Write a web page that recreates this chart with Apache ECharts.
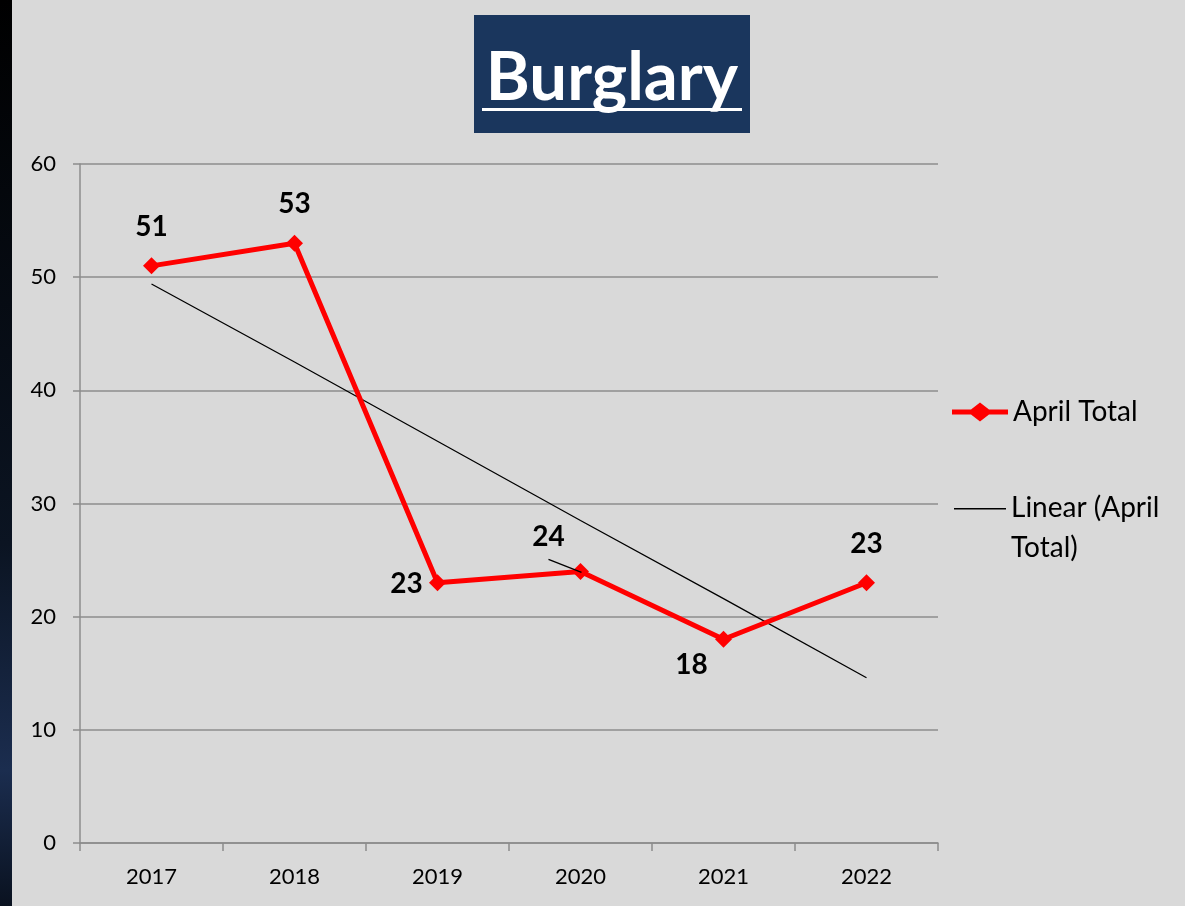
<!DOCTYPE html>
<html>
<head>
<meta charset="utf-8">
<script src="https://cdn.jsdelivr.net/npm/echarts@6/dist/echarts.min.js"></script>
<style>
html,body{margin:0;padding:0;background:#d9d9d9;}
#chart{width:1185px;height:906px;}
</style>
</head>
<body>
<div id="chart"></div>
<script>
// ---- data ----
const categories = ['2017', '2018', '2019', '2020', '2021', '2022'];
const aprilTotal = [51, 53, 23, 24, 18, 23];
// linear trendline values
const trendValues = [49.4, 42.5, 35.5, 28.5, 21.6, 14.6];
const yTicks = [0, 10, 20, 30, 40, 50, 60];
const titleText = 'Burglary';
const seriesName = 'April Total';
const trendName = 'Linear (April Total)';

// ---- styles ----
const labelOffsets = [[0, -39], [0, -39], [-31, 1], [-32, -34], [-32, 26], [0, -39]];
const FONT = 'Lato, "Open Sans", "Noto Sans", sans-serif';

const chart = echarts.init(document.getElementById('chart'));

const seriesData = aprilTotal.map((v, i) => ({
  value: v,
  label: { offset: labelOffsets[i] }
}));

const baseGraphic = [
  {
    type: 'rect', left: 0, top: 0, z: 0,
    shape: { width: 12, height: 906 },
    style: {
      fill: new echarts.graphic.LinearGradient(0, 0, 0, 1, [
        { offset: 0, color: '#000000' },
        { offset: 0.6, color: '#0b1422' },
        { offset: 0.85, color: '#1b2d4f' },
        { offset: 1, color: '#0a1220' }
      ])
    }
  },
  {
    type: 'rect', left: 474, top: 15, z: 1,
    shape: { width: 276, height: 118 },
    style: { fill: '#1a365d' }
  },
  {
    type: 'text', z: 2, x: 612, y: 45,
    style: {
      text: titleText, fill: '#ffffff',
      font: 'bold 67px ' + FONT,
      align: 'center', verticalAlign: 'top'
    }
  },
  {
    type: 'line', z: 2,
    shape: { x1: 482, y1: 109.5, x2: 742, y2: 109.5 },
    style: { stroke: '#ffffff', lineWidth: 3 }
  }
];

chart.setOption({
  backgroundColor: '#d9d9d9',
  animation: false,
  grid: { left: 80, right: 247, top: 164, bottom: 63 },
  legend: [
    {
      data: [{
        name: seriesName,
        icon: 'path://M0,7L19,7L28,0L37,7L56,7L56,12L37,12L28,19L19,12L0,12Z'
      }],
      orient: 'vertical', left: 952, top: 395, padding: 0,
      itemWidth: 56, itemHeight: 19, itemGap: 10,
      textStyle: { fontFamily: FONT, fontSize: 28, color: '#000', lineHeight: 34 }
    },
    {
      data: [{
        name: trendName,
        icon: 'path://M0,0L52,0L52,1.4L0,1.4Z M0,40L0.01,40L0.01,40.01Z'
      }],
      orient: 'vertical', left: 954, top: 488, padding: 0,
      itemWidth: 52, itemHeight: 41.4, textGap: 7,
      formatter: () => 'Linear (April\nTotal)',
      textStyle: { fontFamily: FONT, fontSize: 28, color: '#000', lineHeight: 40 }
    }
  ],
  xAxis: {
    type: 'category',
    data: categories,
    boundaryGap: true,
    axisLine: { lineStyle: { color: '#8c8c8c', width: 1.5 } },
    axisTick: { show: true, length: 8, lineStyle: { color: '#8c8c8c', width: 1.5 } },
    axisLabel: { fontFamily: FONT, fontSize: 22, color: '#000', margin: 23 }
  },
  yAxis: {
    type: 'value',
    min: yTicks[0], max: yTicks[yTicks.length - 1], interval: 10,
    axisLine: { show: true, lineStyle: { color: '#8c8c8c', width: 1.5 } },
    axisTick: { show: true, length: 7, lineStyle: { color: '#8c8c8c', width: 1.5 } },
    axisLabel: { fontFamily: FONT, fontSize: 22, color: '#000', margin: 24 },
    splitLine: { show: true, lineStyle: { color: '#8c8c8c', width: 1.5 } }
  },
  series: [
    {
      name: seriesName,
      type: 'line',
      data: seriesData,
      z: 3,
      symbol: 'diamond', symbolSize: 17,
      itemStyle: { color: '#ff0000' },
      lineStyle: { color: '#ff0000', width: 5 },
      label: {
        show: true, position: 'inside',
        fontFamily: FONT, fontSize: 28, fontWeight: 'bold', color: '#000'
      }
    },
    {
      name: trendName,
      type: 'line',
      data: trendValues,
      z: 2,
      symbol: 'none',
      itemStyle: { color: '#000' },
      lineStyle: { color: '#000', width: 1.3 }
    }
  ],
  graphic: baseGraphic
});

// leader line for the 2020 data label, anchored on the point's pixel position
const p = chart.convertToPixel({ seriesIndex: 0 }, [3, aprilTotal[3]]);
chart.setOption({
  graphic: baseGraphic.concat([{
    type: 'line', z: 4,
    shape: { x1: p[0] - 32, y1: p[1] - 12, x2: p[0] + 1, y2: p[1] + 1 },
    style: { stroke: '#000', lineWidth: 1.3 }
  }])
});
</script>
</body>
</html>
